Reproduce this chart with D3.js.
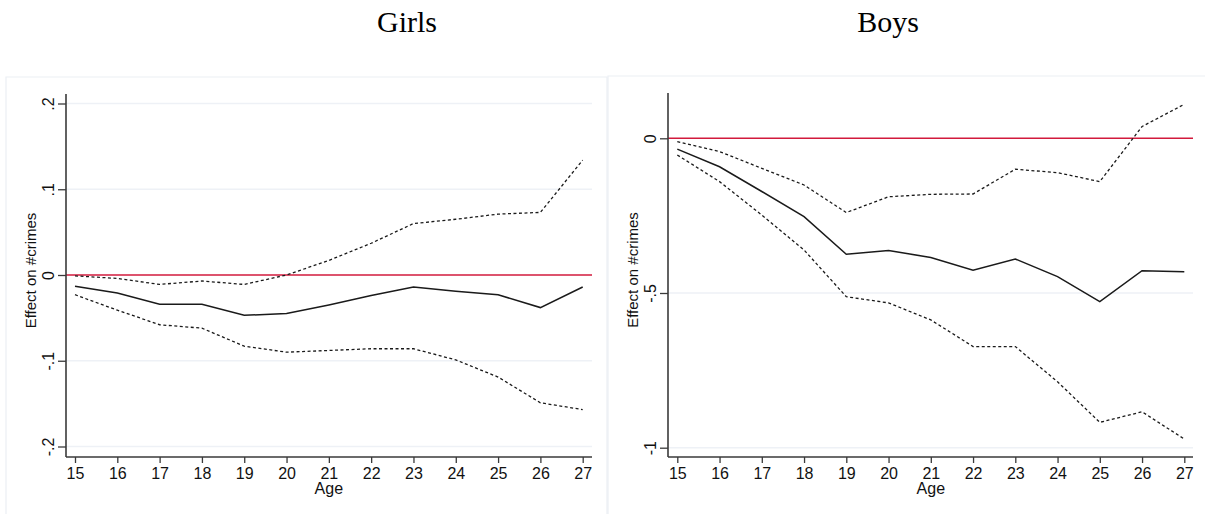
<!DOCTYPE html>
<html>
<head>
<meta charset="utf-8">
<script src="https://cdn.jsdelivr.net/npm/d3@7"></script>
<style>
  body { margin: 0; background: #fff; }
  svg { display: block; }
  .tick-label { font-family: 'Liberation Sans', Arial, sans-serif; font-size: 16px; fill: #111; }
  .title { font-family: 'Liberation Serif', 'Times New Roman', serif; font-size: 30px; fill: #000; }
</style>
</head>
<body>
<div id="chart"></div>
<script>
// Ages on the x axis
const ages = [15, 16, 17, 18, 19, 20, 21, 22, 23, 24, 25, 26, 27]

// Girls: estimate and confidence bounds
const girlsEst = [-0.013, -0.021, -0.034, -0.034, -0.047, -0.045, -0.035, -0.024, -0.014, -0.019, -0.023, -0.038, -0.014]
const girlsHi = [-0.001, -0.004, -0.011, -0.007, -0.011, 0.000, 0.017, 0.037, 0.060, 0.065, 0.071, 0.073, 0.134]
const girlsLo = [-0.023, -0.041, -0.058, -0.062, -0.083, -0.090, -0.088, -0.086, -0.086, -0.099, -0.119, -0.149, -0.157]

// Boys: estimate and confidence bounds
const boysEst = [-0.035, -0.092, -0.172, -0.253, -0.375, -0.363, -0.385, -0.426, -0.390, -0.447, -0.528, -0.428, -0.431]
const boysHi = [-0.011, -0.043, -0.097, -0.151, -0.240, -0.189, -0.181, -0.180, -0.100, -0.111, -0.140, 0.038, 0.110]
const boysLo = [-0.054, -0.140, -0.248, -0.361, -0.512, -0.532, -0.587, -0.673, -0.673, -0.787, -0.918, -0.884, -0.972]

// Tick values and labels
const girlsTicks = [0.2, 0.1, 0, -0.1, -0.2]
const girlsTickLabels = ['.2', '.1', '0', '-.1', '-.2']
const boysTicks = [0, -0.5, -1]
const boysTickLabels = ['0', '-.5', '-1']

const W = 1205, H = 514

const svg = d3.select('#chart').append('svg')
  .attr('width', W)
  .attr('height', H)

function drawPanel(p) {
  const g = svg.append('g')

  // faint panel border (top, sides)
  g.append('path')
    .attr('d', `M${p.box[0]},${p.box[3]} V${p.box[1]} H${p.box[2]} V${p.box[3]}`)
    .attr('fill', 'none')
    .attr('stroke', '#eceff4')
    .attr('stroke-width', 1.2)

  const x = d3.scaleLinear().domain([15, 27]).range(p.xRange)
  const y = d3.scaleLinear().domain(p.yDomain).range(p.yRange)

  // grid lines
  g.selectAll('.grid')
    .data(p.ticks.filter(t => t !== 0))
    .enter()
    .append('line')
    .attr('x1', p.axisX)
    .attr('x2', p.axisEnd)
    .attr('y1', d => y(d))
    .attr('y2', d => y(d))
    .attr('stroke', '#eef1f6')
    .attr('stroke-width', 1.5)

  // zero reference line
  g.append('line')
    .attr('x1', p.axisX)
    .attr('x2', p.axisEnd)
    .attr('y1', y(0))
    .attr('y2', y(0))
    .attr('stroke', '#d21a3c')
    .attr('stroke-width', 1.4)

  // y axis
  const yAxis = d3.axisLeft(y)
    .tickValues(p.ticks)
    .tickFormat((d, i) => p.tickLabels[i])
    .tickSize(8)
    .tickPadding(0)
  const ya = g.append('g')
    .attr('transform', `translate(${p.axisX},0)`)
    .call(yAxis)
  ya.select('.domain')
    .attr('d', `M0,${p.axisTop} V${p.axisBottom}`)
    .attr('stroke', '#3a3a3a')
    .attr('stroke-width', 1.6)
  ya.selectAll('.tick line').attr('stroke', '#3a3a3a').attr('stroke-width', 1.3)
  ya.selectAll('.tick text')
    .attr('class', 'tick-label')
    .attr('x', 0)
    .attr('dy', 0)
    .attr('text-anchor', 'middle')
    .attr('dominant-baseline', 'central')
    .attr('font-size', null)
    .attr('font-family', null)
    .attr('transform', 'translate(-18,0) rotate(-90)')

  // x axis
  const xAxis = d3.axisBottom(x)
    .tickValues(ages)
    .tickFormat(d3.format('d'))
    .tickSize(6)
    .tickPadding(5)
  const xa = g.append('g')
    .attr('transform', `translate(0,${p.axisBottom})`)
    .call(xAxis)
  xa.select('.domain')
    .attr('d', `M${p.axisX},0 H${p.axisEnd}`)
    .attr('stroke', '#3a3a3a')
    .attr('stroke-width', 1.6)
  xa.selectAll('.tick line').attr('stroke', '#3a3a3a').attr('stroke-width', 1.3)
  xa.selectAll('.tick text')
    .attr('class', 'tick-label')
    .attr('font-size', null)
    .attr('font-family', null)

  // axis titles
  g.append('text')
    .attr('class', 'tick-label')
    .attr('text-anchor', 'middle')
    .attr('transform', `translate(${p.axisX - 36},${(p.axisTop + p.axisBottom) / 2 - 5}) rotate(-90)`)
    .attr('dominant-baseline', 'central')
    .style('font-size', '15px')
    .text('Effect on #crimes')

  g.append('text')
    .attr('class', 'tick-label')
    .attr('text-anchor', 'middle')
    .attr('x', x(21))
    .attr('y', p.axisBottom + 37)
    .text('Age')

  // series lines
  const line = d3.line()
    .x((d, i) => x(ages[i]))
    .y(d => y(d))

  const series = [
    { values: p.hi, dash: '3,2.5' },
    { values: p.lo, dash: '3,2.5' },
    { values: p.est, dash: null }
  ]
  g.selectAll('.series')
    .data(series)
    .enter()
    .append('path')
    .attr('class', 'series')
    .attr('d', d => line(d.values))
    .attr('fill', 'none')
    .attr('stroke', '#1a1a1a')
    .attr('stroke-width', d => d.dash ? 1.3 : 1.5)
    .attr('stroke-dasharray', d => d.dash)

  // panel title
  svg.append('text')
    .attr('class', 'title')
    .attr('text-anchor', 'middle')
    .attr('x', p.titleX)
    .attr('y', 32)
    .text(p.title)
}

drawPanel({
  title: 'Girls',
  titleX: 407,
  box: [6, 77, 607, 514],
  xRange: [75, 582.7],
  yDomain: [-0.2, 0.2],
  yRange: [446.5, 103.5],
  axisX: 66,
  axisEnd: 592,
  axisTop: 94,
  axisBottom: 457,
  ticks: girlsTicks,
  tickLabels: girlsTickLabels,
  est: girlsEst,
  hi: girlsHi,
  lo: girlsLo
})

drawPanel({
  title: 'Boys',
  titleX: 888,
  box: [608, 76, 1210, 514],
  xRange: [677.3, 1184.3],
  yDomain: [-1, 0],
  yRange: [447.7, 138.3],
  axisX: 668,
  axisEnd: 1193,
  axisTop: 93,
  axisBottom: 457,
  ticks: boysTicks,
  tickLabels: boysTickLabels,
  est: boysEst,
  hi: boysHi,
  lo: boysLo
})
</script>
</body>
</html>
